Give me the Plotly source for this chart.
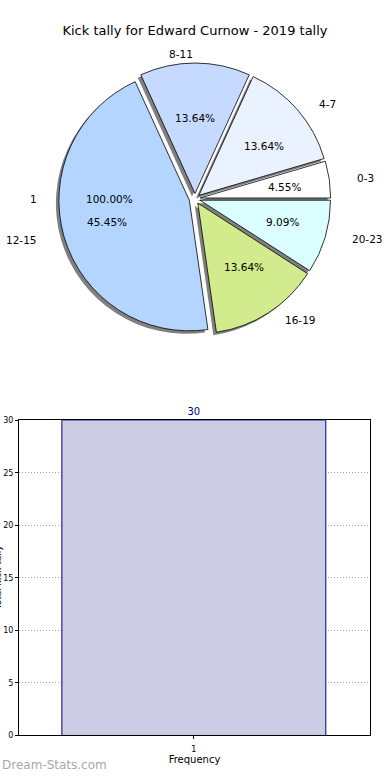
import math
import plotly.graph_objects as go

# ---- data ----
pie_labels = ["0-3", "4-7", "8-11", "12-15", "16-19", "20-23"]
pie_values = [1, 3, 3, 10, 3, 2]
pie_colors = ["#FFFFFF", "#EAF1FF", "#C6D9FF", "#B3D5FF", "#D2EB8C", "#DBFFFF"]
pie_pull = [0.04, 0.04, 0.04, 0.045, 0.04, 0.04]

outer_labels = ["1"]
outer_values = [1]

bar_x = [1]
bar_values = [30]
y_ticks = [0, 5, 10, 15, 20, 25, 30]

title_text = "Kick tally for Edward Curnow - 2019 tally"
x_title = "Frequency"
y_title = "Total kick tally"
watermark = "Dream-Stats.com"

# ---- layout constants (pixels) ----
W, H = 390, 780
FONT = "DejaVu Sans"
CX, CY = 195, 197          # pie centre
R = 132                    # pie radius
RX, RY = 142, 128          # text placement radii
PCT_DIST, LAB_DIST = 0.6, 1.1
max_pull = max(pie_pull)
half = R * (1 + max_pull)

# first slice starts at 3 o'clock, going counter-clockwise (plotly offsets
# a counter-clockwise pie by its first slice)
pie_rotation = 90 - 360.0 * pie_values[0] / sum(pie_values)


def dom(dx=0, dy=0):
    return dict(
        x=[(CX + dx - half) / W, (CX + dx + half) / W],
        y=[(H - (CY + dy) - half) / H, (H - (CY + dy) + half) / H],
    )


fig = go.Figure()

# shadow
fig.add_trace(go.Pie(
    values=pie_values, labels=pie_labels, pull=pie_pull, sort=False,
    direction="counterclockwise", rotation=pie_rotation, domain=dom(-3, 3),
    marker=dict(colors=["#808080"] * len(pie_values), line=dict(width=0)),
    textinfo="none", hoverinfo="skip", showlegend=False,
))

# main pie
fig.add_trace(go.Pie(
    values=pie_values, labels=pie_labels, pull=pie_pull, sort=False,
    direction="counterclockwise", rotation=pie_rotation, domain=dom(),
    marker=dict(colors=pie_colors, line=dict(color="black", width=0.8)),
    textinfo="none", hovertemplate="%{label}: %{percent:.2%}<extra></extra>",
    showlegend=False,
))


# ---- pie texts (matplotlib style), placed on a hidden axis ----
def pie_text_annotations(values, labels, pulls):
    anns = []
    total = float(sum(values))
    start = 0.0
    for v, lab, p in zip(values, labels, pulls):
        frac = v / total
        mid = math.radians(360.0 * (start + frac / 2.0))
        start += frac
        c, s = math.cos(mid), math.sin(mid)
        anns.append(dict(
            x=(PCT_DIST + p) * c, y=(PCT_DIST + p) * s, xref="x2", yref="y2",
            text=f"{100 * frac:.2f}%", showarrow=False,
            xanchor="center", yanchor="middle",
            font=dict(family=FONT, size=10.5, color="black"),
        ))
        anns.append(dict(
            x=(LAB_DIST + p) * c, y=(LAB_DIST + p) * s, xref="x2", yref="y2",
            text=lab, showarrow=False,
            xanchor="left" if c > 1e-9 else "right", yanchor="middle",
            font=dict(family=FONT, size=10.5, color="black"),
        ))
    return anns


annotations = []
annotations += pie_text_annotations(outer_values, outer_labels, [0.0])
annotations += pie_text_annotations(pie_values, pie_labels, pie_pull)

# bar chart
fig.add_trace(go.Bar(
    x=bar_x, y=bar_values, width=0.8,
    marker=dict(color="#CCCCE5", line=dict(color="#00007F", width=1)),
    text=[str(v) for v in bar_values], textposition="outside", cliponaxis=False,
    textfont=dict(family=FONT, size=10, color="#00007F"),
    hoverinfo="skip", showlegend=False,
))

annotations += [
    dict(text=y_title, textangle=-90, x=-2 / W, y=(H - 580) / H,
         xref="paper", yref="paper", showarrow=False, xanchor="center",
         yanchor="middle", font=dict(family=FONT, size=9, color="black")),
    dict(text=watermark, x=0, y=(H - 770) / H, xref="paper", yref="paper",
         showarrow=False, xanchor="left", yanchor="middle",
         font=dict(family=FONT, size=12, color="#A8A8A8")),
]

grid = dict(showgrid=True, gridcolor="#A0A0A0", griddash="1px,2px", gridwidth=1)

fig.update_layout(
    width=W, height=H,
    margin=dict(l=0, r=0, t=0, b=0),
    paper_bgcolor="white", plot_bgcolor="rgba(0,0,0,0)",
    font=dict(family=FONT, color="black"),
    title=dict(text=title_text, x=0.5, xanchor="center", y=1 - 30 / H, yanchor="middle",
               font=dict(family=FONT, size=13, color="black")),
    xaxis=dict(
        domain=[19 / W, 370 / W], range=[0.47, 1.534],
        tickmode="array", tickvals=bar_x, ticktext=[str(v) for v in bar_x],
        ticks="outside", ticklen=3, tickcolor="black", ticklabelstandoff=3,
        showline=True, linecolor="black", linewidth=1, mirror=True,
        zeroline=False, tickfont=dict(family=FONT, size=8),
        title=dict(text=x_title, font=dict(family=FONT, size=10), standoff=1),
        fixedrange=True, **grid,
    ),
    yaxis=dict(
        domain=[(H - 740) / H, (H - 421) / H], range=[0, 30],
        tickmode="array", tickvals=y_ticks,
        ticks="outside", ticklen=3, tickcolor="black",
        showline=True, linecolor="black", linewidth=1, mirror=True,
        zeroline=False, tickfont=dict(family=FONT, size=8),
        fixedrange=True, **grid,
    ),
    xaxis2=dict(domain=[0, 1], range=[-CX / RX, (W - CX) / RX], anchor="y2",
                visible=False, fixedrange=True),
    yaxis2=dict(domain=[0, 1], range=[(CY - H) / RY, CY / RY], anchor="x2",
                visible=False, fixedrange=True),
    annotations=annotations,
)

fig.write_html("out.html", config={"displayModeBar": False},
               post_script="document.body.style.margin='0px';")
